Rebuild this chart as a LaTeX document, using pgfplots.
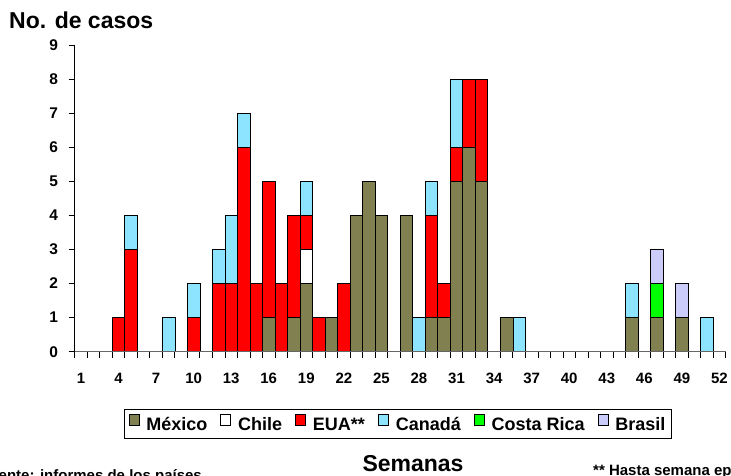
\documentclass[border=0pt]{standalone}
\usepackage{fontspec}
\setmainfont{Liberation Sans}
\usepackage{pgfplots}
\usepackage{pgfplotstable}
\pgfplotsset{compat=1.18}
\definecolor{mex}{RGB}{128,128,80}
\definecolor{eua}{RGB}{255,0,0}
\definecolor{can}{RGB}{140,228,255}
\definecolor{cr}{RGB}{0,255,0}
\definecolor{bra}{RGB}{204,204,250}
\pgfplotstableread{
week mex chi eua can cr bra
1 0 0 0 0 0 0
2 0 0 0 0 0 0
3 0 0 0 0 0 0
4 0 0 1 0 0 0
5 0 0 3 1 0 0
6 0 0 0 0 0 0
7 0 0 0 0 0 0
8 0 0 0 1 0 0
9 0 0 0 0 0 0
10 0 0 1 1 0 0
11 0 0 0 0 0 0
12 0 0 2 1 0 0
13 0 0 2 2 0 0
14 0 0 6 1 0 0
15 0 0 2 0 0 0
16 1 0 4 0 0 0
17 0 0 2 0 0 0
18 1 0 3 0 0 0
19 2 1 1 1 0 0
20 0 0 1 0 0 0
21 1 0 0 0 0 0
22 0 0 2 0 0 0
23 4 0 0 0 0 0
24 5 0 0 0 0 0
25 4 0 0 0 0 0
26 0 0 0 0 0 0
27 4 0 0 0 0 0
28 0 0 0 1 0 0
29 1 0 3 1 0 0
30 1 0 1 0 0 0
31 5 0 1 2 0 0
32 6 0 2 0 0 0
33 5 0 3 0 0 0
34 0 0 0 0 0 0
35 1 0 0 0 0 0
36 0 0 0 1 0 0
37 0 0 0 0 0 0
38 0 0 0 0 0 0
39 0 0 0 0 0 0
40 0 0 0 0 0 0
41 0 0 0 0 0 0
42 0 0 0 0 0 0
43 0 0 0 0 0 0
44 0 0 0 0 0 0
45 1 0 0 1 0 0
46 0 0 0 0 0 0
47 1 0 0 0 1 1
48 0 0 0 0 0 0
49 1 0 0 0 0 1
50 0 0 0 0 0 0
51 0 0 0 1 0 0
52 0 0 0 0 0 0
}\data
\begin{document}
\begin{tikzpicture}[x=1pt,y=1pt]
\begin{axis}[
  at={(74.7pt,123.3pt)}, anchor=south west,
  scale only axis, width=651pt, height=306.7pt,
  xmin=0.5, xmax=52.5, ymin=0, ymax=9,
  axis x line=bottom, axis y line=left,
  x axis line style={-, draw=black!60, line width=1.4pt},
  y axis line style={-, draw=black, line width=0.8pt},
  axis on top,
  tick align=outside, major tick length=6pt,
  tick style={black, line width=0.8pt},
  ytick={0,1,...,9},
  xtick={0.5,1.5,...,52.5}, xticklabels={},
  extra x ticks={1,4,...,52},
  extra x tick style={major tick length=0pt},
  /pgf/number format/assume math mode=true,
  xticklabel style={font=\fontsize{15}{15}\selectfont\bfseries, inner sep=0pt, yshift=-21.5pt},
  yticklabel style={font=\fontsize{15.5}{15.5}\selectfont\bfseries, inner sep=0pt, xshift=-10.5pt},
  ybar stacked, bar width=1,
  legend columns=6,
  legend style={at={(axis description cs:0.4966,-0.2357)}, anchor=center,
    draw=black, line width=0.8pt, inner xsep=4pt, inner ysep=4pt,
    font=\fontsize{18}{20}\selectfont\bfseries,
    /tikz/every odd column/.append style={column sep=5pt},
    /tikz/every even column/.append style={column sep=11pt}},
  legend image code/.code={\draw[#1, line width=0.8pt] (0pt,0pt) rectangle (10pt,11pt);},
]
\addplot[fill=mex, draw=black, line width=0.7pt] table[x=week,y=mex]{\data};
\addplot[fill=white, draw=black, line width=0.7pt] table[x=week,y=chi]{\data};
\addplot[fill=eua, draw=black, line width=0.7pt] table[x=week,y=eua]{\data};
\addplot[fill=can, draw=black, line width=0.7pt] table[x=week,y=can]{\data};
\addplot[fill=cr, draw=black, line width=0.7pt] table[x=week,y=cr]{\data};
\addplot[fill=bra, draw=black, line width=0.7pt] table[x=week,y=bra]{\data};
\legend{México, Chile, EUA**, Canadá, Costa Rica, Brasil}
\end{axis}
\node[anchor=base west, inner sep=0pt, font=\fontsize{23}{23}\selectfont\bfseries] at (9,446.7) {No. de casos};
\node[anchor=base, inner sep=0pt, font=\fontsize{23}{23}\selectfont\bfseries] at (413,4) {Semanas};
\node[anchor=base west, inner sep=0pt, font=\fontsize{15}{15}\selectfont\bfseries] at (593,0) {** Hasta semana epidemiológica 44};
\node[anchor=base east, inner sep=0pt, font=\fontsize{15}{15}\selectfont\bfseries] at (202,-5) {Fuente: informes de los países};
\pgfresetboundingbox
\useasboundingbox (0,0) rectangle (731,475);
\end{tikzpicture}
\end{document}
